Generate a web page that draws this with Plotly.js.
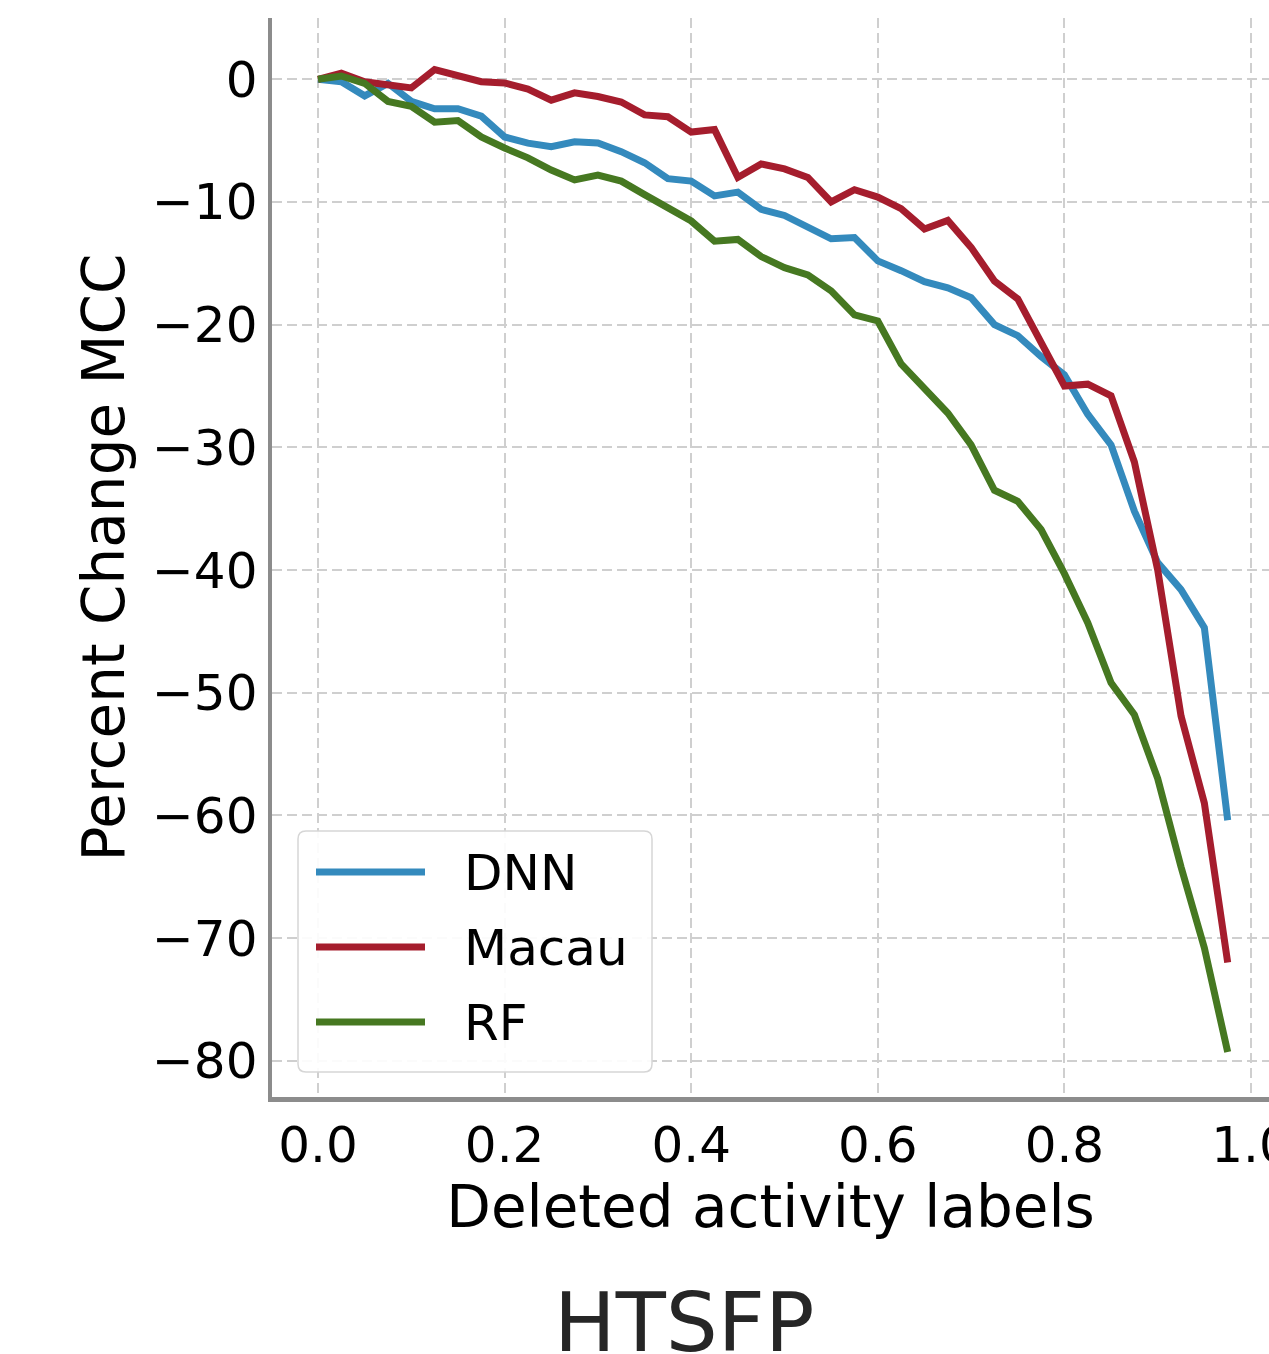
<!DOCTYPE html>
<html>
<head>
<meta charset="utf-8">
<script src="https://cdn.plot.ly/plotly-3.0.1.min.js"></script>
<style>html,body{margin:0;padding:0;background:#fff;overflow:hidden;}#chart{width:1269px;height:1354px;}</style>
</head>
<body>
<div id="chart"></div>
<script>
// Fraction of deleted activity labels
const deleted = [0, 0.025, 0.05, 0.075, 0.1, 0.125, 0.15, 0.175, 0.2, 0.225,
  0.25, 0.275, 0.3, 0.325, 0.35, 0.375, 0.4, 0.425, 0.45, 0.475,
  0.5, 0.525, 0.55, 0.575, 0.6, 0.625, 0.65, 0.675, 0.7, 0.725,
  0.75, 0.775, 0.8, 0.825, 0.85, 0.875, 0.9, 0.925, 0.95, 0.975];

const dnn = [0, -0.2, -1.35, -0.33, -1.8, -2.4, -2.4, -3.0, -4.7, -5.2,
  -5.5, -5.1, -5.2, -5.9, -6.8, -8.1, -8.3, -9.5, -9.2, -10.6,
  -11.1, -12.0, -13.0, -12.9, -14.8, -15.6, -16.5, -17.0, -17.8, -20.0,
  -20.9, -22.6, -24.1, -27.3, -29.8, -35.2, -39.4, -41.6, -44.7, -60.4];

const macau = [0, 0.5, -0.2, -0.5, -0.7, 0.8, 0.35, -0.2, -0.3, -0.8,
  -1.7, -1.1, -1.4, -1.85, -2.9, -3.05, -4.3, -4.1, -8.0, -6.9,
  -7.3, -8.0, -10.0, -9.0, -9.6, -10.55, -12.2, -11.5, -13.7, -16.45,
  -17.9, -21.5, -25.0, -24.85, -25.8, -31.2, -40.0, -51.9, -59.0, -72.0];

const rf = [0, 0.27, -0.33, -1.8, -2.2, -3.5, -3.36, -4.7, -5.6, -6.4,
  -7.4, -8.2, -7.8, -8.3, -9.4, -10.45, -11.55, -13.2, -13.05, -14.45,
  -15.35, -15.95, -17.25, -19.2, -19.7, -23.2, -25.1, -27.2, -29.8, -33.5,
  -34.4, -36.7, -40.3, -44.3, -49.2, -51.8, -57.0, -64.2, -70.8, -79.3];

const seriesNames = ["DNN", "Macau", "RF"];
const seriesColors = ["#348ABD", "#A51D2D", "#467821"];
const seriesValues = [dnn, macau, rf];

const xTickVals = [0, 0.2, 0.4, 0.6, 0.8, 1.0];
const xTickText = ["0.0", "0.2", "0.4", "0.6", "0.8", "1.0"];
const yTickVals = [0, -10, -20, -30, -40, -50, -60, -70, -80];

const FONT = "DejaVu Sans, Liberation Sans, sans-serif";
const LW = 7;

const traces = seriesNames.map((name, i) => ({
  x: deleted, y: seriesValues[i], name: name, type: "scatter", mode: "lines",
  line: {color: seriesColors[i], width: LW}, showlegend: false
}));

// geometry helpers for the custom legend (paper coords of the plot area)
const L = 272, R = 1269, T = 18, B = 1097;
const px = v => (v - L) / (R - L);
const py = v => (B - v) / (B - T);

function roundRect(x0, y0, x1, y1, r) {
  const rx = r / (R - L), ry = r / (B - T);
  const a = px(x0), b = px(x1), top = py(y0), bot = py(y1);
  return `M ${a + rx},${top} L ${b - rx},${top} Q ${b},${top} ${b},${top - ry} ` +
    `L ${b},${bot + ry} Q ${b},${bot} ${b - rx},${bot} L ${a + rx},${bot} ` +
    `Q ${a},${bot} ${a},${bot + ry} L ${a},${top - ry} Q ${a},${top} ${a + rx},${top} Z`;
}

const shapes = [{
  type: "path", xref: "paper", yref: "paper", layer: "above",
  path: roundRect(298, 831, 652, 1072, 8),
  fillcolor: "rgba(255,255,255,0.9)", line: {color: "#d6d6d6", width: 1.5}
}];
const annotations = [];
const legendRows = [872, 947, 1022];
seriesNames.forEach((name, i) => {
  shapes.push({
    type: "line", xref: "paper", yref: "paper", layer: "above",
    x0: px(316), x1: px(425), y0: py(legendRows[i]), y1: py(legendRows[i]),
    line: {color: seriesColors[i], width: LW}
  });
  annotations.push({
    xref: "paper", yref: "paper", x: px(462), y: py(legendRows[i] + 1),
    xanchor: "left", yanchor: "middle", showarrow: false, text: name,
    font: {family: FONT, size: 50, color: "#000"}
  });
});
annotations.push({
  xref: "paper", yref: "paper", x: px(684), y: py(1322),
  xanchor: "center", yanchor: "middle", showarrow: false, text: "HTSFP",
  font: {family: FONT, size: 82, color: "#262626"}
});

const yPerUnit = (1060.7 - 79.3) / 80;
const yTop = (79.3 - T) / yPerUnit;
const yBot = (79.3 - B) / yPerUnit;
const xPerUnit = 933;
const xLeft = -(318 - L) / xPerUnit;
const xRight = (R - 318) / xPerUnit;

const layout = {
  width: 1269, height: 1354,
  margin: {l: L, r: 1269 - R, t: T, b: 1354 - B, pad: 0},
  paper_bgcolor: "#fff", plot_bgcolor: "#fff",
  font: {family: FONT, color: "#000"},
  xaxis: {
    range: [xLeft, xRight], tickvals: xTickVals, ticktext: xTickText,
    ticklabeloverflow: "allow",
    showgrid: true, gridcolor: "#cfcfcf", gridwidth: 2, griddash: "10px,5px",
    zeroline: false, showline: true, linecolor: "#8c8c8c", linewidth: 4.5,
    ticks: "", tickfont: {family: FONT, size: 50, color: "#000"},
    title: {text: "Deleted activity labels", font: {family: FONT, size: 58, color: "#000"}, standoff: 2}
  },
  yaxis: {
    range: [yBot, yTop], tickvals: yTickVals,
    showgrid: true, gridcolor: "#cfcfcf", gridwidth: 2, griddash: "10px,5px",
    zeroline: false, showline: true, linecolor: "#8c8c8c", linewidth: 4.5,
    ticks: "", tickfont: {family: FONT, size: 50, color: "#000"},
    title: {text: "Percent Change MCC", font: {family: FONT, size: 58, color: "#000"}, standoff: 10}
  },
  shapes: shapes, annotations: annotations, showlegend: false
};

Plotly.newPlot("chart", traces, layout, {staticPlot: true, displayModeBar: false});
</script>
</body>
</html>
